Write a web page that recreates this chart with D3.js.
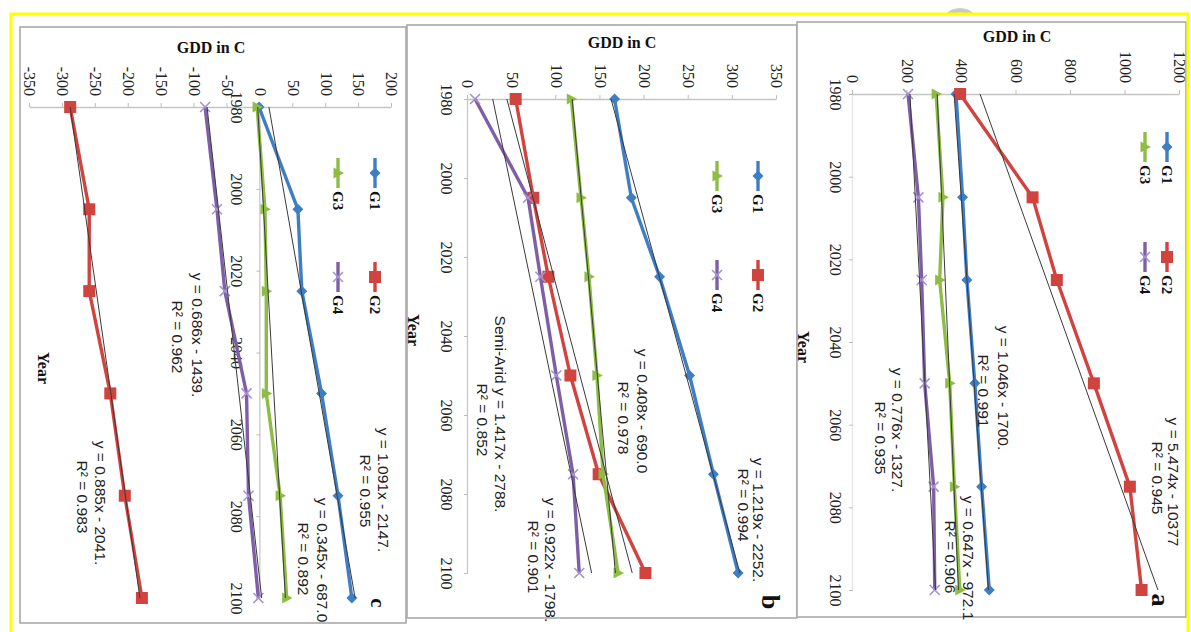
<!DOCTYPE html>
<html>
<head>
<meta charset="utf-8">
<script src="https://cdn.jsdelivr.net/npm/d3@7"></script>
<style>
  html, body { margin: 0; padding: 0; background: #fff; }
  svg { display: block; }
</style>
</head>
<body>
<svg id="fig" width="1191" height="632"></svg>
<script>
// ---------------------------------------------------------------- data
const years = [1980, 2005, 2025, 2050, 2075, 2100];
const yearTicks = [1980, 2000, 2020, 2040, 2060, 2080, 2100];
const trendYears = [1980, 2100];
const seriesNames = ['G1', 'G2', 'G3', 'G4'];

// panel a
const aTicks = [0, 200, 400, 600, 800, 1000, 1200];
const aG1 = [378, 402, 418, 447, 472, 500];
const aG2 = [393, 659, 748, 884, 1016, 1059];
const aG3 = [305, 330, 318, 355, 372, 392];
const aG4 = [202, 240, 252, 263, 296, 300];
const aTrends = [[371, 497], [466, 1119], [309, 387], [209, 303]];
const aEq = ['y = 1.046x - 1700.', 'y = 5.474x - 10377', 'y = 0.647x - 972.1', 'y = 0.776x - 1327.'];
const aR2 = ['R² = 0.991', 'R² = 0.945', 'R² = 0.906', 'R² = 0.935'];

// panel b
const bTicks = [0, 50, 100, 150, 200, 250, 300, 350];
const bG1 = [166, 185, 217, 251, 278, 306];
const bG2 = [54, 74, 91, 116, 148, 201];
const bG3 = [117, 128, 137, 146, 153, 170];
const bG4 = [8, 68, 82, 100, 119, 126];
const bTrends = [[162, 308], [44, 186], [118, 167], [28, 140]];
const bEq = ['y = 1.219x - 2252.', 'Semi-Arid y = 1.417x - 2788.', 'y = 0.408x - 690.0', 'y = 0.922x - 1798.'];
const bR2 = ['R² = 0.994', 'R² = 0.852', 'R² = 0.978', 'R² = 0.901'];

// panel c
const cTicks = [-350, -300, -250, -200, -150, -100, -50, 0, 50, 100, 150, 200];
const cG1 = [-2, 57, 63, 93, 118, 139];
const cG2 = [-289, -260, -260, -228, -206, -180];
const cG3 = [-5, 7, 9, 9, 30, 40];
const cG4 = [-84, -66, -54, -21, -18, -3];
const cTrends = [[13, 144], [-289, -183], [-4, 38], [-81, 2]];
const cEq = ['y = 1.091x - 2147.', 'y = 0.885x - 2041.', 'y = 0.345x - 687.0', 'y = 0.686x - 1439.'];
const cR2 = ['R² = 0.955', 'R² = 0.983', 'R² = 0.892', 'R² = 0.962'];

// ---------------------------------------------------------------- layout
const colors = ['#3f7dc4', '#d0433f', '#8dbd45', '#7e5fa6'];
const serif = '"Liberation Serif","Times New Roman",serif';
const sans = '"Liberation Sans",Arial,sans-serif';
const plain = d => String(d);   // Excel style: 1980, -350 (no commas, plain hyphen)

// every chart is an Excel chart turned 90deg clockwise; positions are screen px
const panels = [
    { letter: 'a', left: 797, top: 22, right: 1186, bottom: 617,
      domain: [0, 1200], valPx: [853, 1180], yearPx: [94, 590],
      ticks: aTicks, series: [aG1, aG2, aG3, aG4], trends: aTrends, eq: aEq, r2: aR2,
      eqPos: [[1003, 388, 983, 391], [1173, 482, 1157, 478], [968, 558, 950, 557], [897, 430, 880, 438]],
      legend: [1167, 147, 110, 22], yearPad: 8, yearLine: '#e6e6e6',
      yearTitle: [803, 347], letterPos: [1160, 600], letterSize: 26, gdd: [1017, 36] },
    { letter: 'b', left: 407, top: 25, right: 797, bottom: 618,
      domain: [0, 350], valPx: [468, 777], yearPx: [99, 573],
      ticks: bTicks, series: [bG1, bG2, bG3, bG4], trends: bTrends, eq: bEq, r2: bR2,
      eqPos: [[758, 520, 743, 505], [500, 414, 482, 420], [642, 411, 623, 418], [550, 560, 533, 557]],
      legend: [758, 176, 99, 41], yearPad: 12, yearLine: '#c8c8c8',
      yearTitle: [413, 330], letterPos: [770, 602], letterSize: 26, gdd: [622, 42] },
    { letter: 'c', left: 20, top: 27, right: 406, bottom: 623,
      domain: [-350, 200], valPx: [30, 392], yearPx: [107, 598],
      ticks: cTicks, series: [cG1, cG2, cG3, cG4], trends: cTrends, eq: cEq, r2: cR2,
      eqPos: [[383, 490, 365, 491], [100, 503, 82, 497], [322, 560, 303, 559], [197, 335, 177, 337]],
      legend: [375, 173, 104, 37], yearPad: 14, yearLine: '#c8c8c8',
      yearTitle: [43, 368], letterPos: [378, 603], letterSize: 21, gdd: [211, 47] }
];

const svg = d3.select('#fig');

// grey blob peeking over the yellow border
svg.append('clipPath').attr('id', 'topclip')
    .append('rect').attr('x', 0).attr('y', 0).attr('width', 1191).attr('height', 13);
svg.append('circle')
    .attr('cx', 960).attr('cy', 28).attr('r', 20)
    .attr('fill', '#c9c9c9')
    .attr('clip-path', 'url(#topclip)');

//----------------------------------------------------------------------------
function drawMarker(g, i, cx, cy) {
    const m = g.append('g').attr('transform', `translate(${cx},${cy})`);
    if (i === 0) {
        m.append('path').attr('d', 'M0,-5.5L5.5,0L0,5.5L-5.5,0Z').attr('fill', colors[0]);
    } else if (i === 1) {
        m.append('path').attr('d', 'M-6,-6H6V6H-6Z').attr('fill', colors[1]);
    } else if (i === 2) {
        m.append('path').attr('d', 'M0,-6L5.5,4.5L-5.5,4.5Z').attr('fill', colors[2]);
    } else {
        m.append('path').attr('d', 'M-5,-5L5,5M-5,5L5,-5')
            .attr('stroke', '#a592cf').attr('stroke-width', 1.6).attr('fill', 'none');
    }
}
//----------------------------------------------------------------------------
function drawPanel(p) {
    const W = p.bottom - p.top;
    const H = p.right - p.left;
    const toLocal = (sx, sy) => [sy - p.top, p.right - sx];

    const g = svg.append('g')
        .attr('transform', `translate(${p.right},${p.top}) rotate(90)`);

    g.append('rect')
        .attr('x', 0).attr('y', 0).attr('width', W).attr('height', H)
        .attr('fill', '#fff').attr('stroke', '#a9a9a9').attr('stroke-width', 1.6);

    const x = d3.scaleLinear()
        .domain([1980, 2100])
        .range([p.yearPx[0] - p.top, p.yearPx[1] - p.top]);
    const y = d3.scaleLinear()
        .domain(p.domain)
        .range([p.right - p.valPx[0], p.right - p.valPx[1]]);

    // value axis (on the left of the unturned chart)
    const yAxis = g.append('g')
        .attr('transform', `translate(${x(1980)},0)`)
        .call(d3.axisLeft(y).tickValues(p.ticks).tickFormat(plain)
            .tickSize(4).tickSizeOuter(0).tickPadding(7));
    yAxis.select('.domain').attr('stroke', '#c4c4c4').attr('stroke-width', 1.3);
    yAxis.selectAll('.tick line').attr('stroke', '#bdbdbd');
    yAxis.selectAll('.tick text')
        .attr('font-family', serif).attr('font-size', 16).attr('fill', '#222');

    // year axis, crossing at value 0
    const xAxis = g.append('g')
        .attr('transform', `translate(0,${y(0)})`)
        .call(d3.axisBottom(x).tickValues(yearTicks).tickFormat(plain)
            .tickSize(4).tickSizeOuter(0).tickPadding(p.yearPad));
    xAxis.select('.domain').attr('stroke', p.yearLine).attr('stroke-width', 1.3);
    xAxis.selectAll('.tick line').attr('stroke', '#bdbdbd');
    xAxis.selectAll('.tick text')
        .attr('font-family', serif).attr('font-size', 16).attr('fill', '#222');

    // series
    const line = d3.line().x(d => x(d[0])).y(d => y(d[1]));
    p.series.forEach((vals, i) => {
        const pts = years.map((yr, k) => [yr, vals[k]]);
        g.append('path')
            .attr('d', line(pts))
            .attr('fill', 'none')
            .attr('stroke', colors[i])
            .attr('stroke-width', 3.4)
            .attr('stroke-linejoin', 'round');
        pts.forEach(d => drawMarker(g, i, x(d[0]), y(d[1])));
    });

    // linear trend lines
    p.trends.forEach(t => {
        g.append('path')
            .attr('d', line(trendYears.map((yr, k) => [yr, t[k]])))
            .attr('fill', 'none')
            .attr('stroke', '#3a3a3a')
            .attr('stroke-width', 1);
    });

    // trend equations
    p.eqPos.forEach((pos, i) => {
        const l1 = toLocal(pos[0], pos[1]);
        const l2 = toLocal(pos[2], pos[3]);
        [[l1, p.eq[i]], [l2, p.r2[i]]].forEach(([pt, txt]) => {
            g.append('text')
                .attr('x', pt[0]).attr('y', pt[1])
                .attr('text-anchor', 'middle')
                .attr('dominant-baseline', 'central')
                .attr('font-family', sans).attr('font-size', 15.5).attr('fill', '#222')
                .text(txt);
        });
    });

    // legend: G1 G2 on one row, G3 G4 on the next
    const [lx0, ly0, down, leftward] = p.legend;
    seriesNames.forEach((name, i) => {
        const sx = lx0 - (i >= 2 ? leftward : 0);
        const sy = ly0 + (i % 2 === 1 ? down : 0);
        const [cx, cy] = toLocal(sx, sy);
        g.append('line')
            .attr('x1', cx - 15).attr('x2', cx + 15).attr('y1', cy).attr('y2', cy)
            .attr('stroke', colors[i]).attr('stroke-width', 3.4);
        drawMarker(g, i, cx, cy);
        g.append('text')
            .attr('x', cx + 18).attr('y', cy)
            .attr('dominant-baseline', 'central')
            .attr('font-family', serif).attr('font-weight', 'bold').attr('font-size', 15)
            .attr('fill', '#111')
            .text(name);
    });

    // axis title "Year" and panel letter
    const yt = toLocal(p.yearTitle[0], p.yearTitle[1]);
    g.append('text')
        .attr('x', yt[0]).attr('y', yt[1])
        .attr('text-anchor', 'middle').attr('dominant-baseline', 'central')
        .attr('font-family', serif).attr('font-weight', 'bold').attr('font-size', 16)
        .attr('fill', '#111')
        .text('Year');

    const lt = toLocal(p.letterPos[0], p.letterPos[1]);
    g.append('text')
        .attr('x', lt[0]).attr('y', lt[1])
        .attr('text-anchor', 'middle').attr('dominant-baseline', 'central')
        .attr('font-family', serif).attr('font-weight', 'bold').attr('font-size', p.letterSize)
        .attr('fill', '#111')
        .text(p.letter);

    // value axis title stays horizontal on screen
    svg.append('text')
        .attr('x', p.gdd[0]).attr('y', p.gdd[1])
        .attr('text-anchor', 'middle').attr('dominant-baseline', 'central')
        .attr('font-family', serif).attr('font-weight', 'bold').attr('font-size', 16)
        .attr('fill', '#111')
        .text('GDD in C');
}

// c first, then b, then a, so later frames sit on top like the stacked scans
[panels[2], panels[1], panels[0]].forEach(drawPanel);

// yellow outer border
svg.append('rect')
    .attr('x', 11).attr('y', 14).attr('width', 1177).attr('height', 640)
    .attr('fill', 'none').attr('stroke', '#ffff00').attr('stroke-width', 3);
</script>
</body>
</html>
